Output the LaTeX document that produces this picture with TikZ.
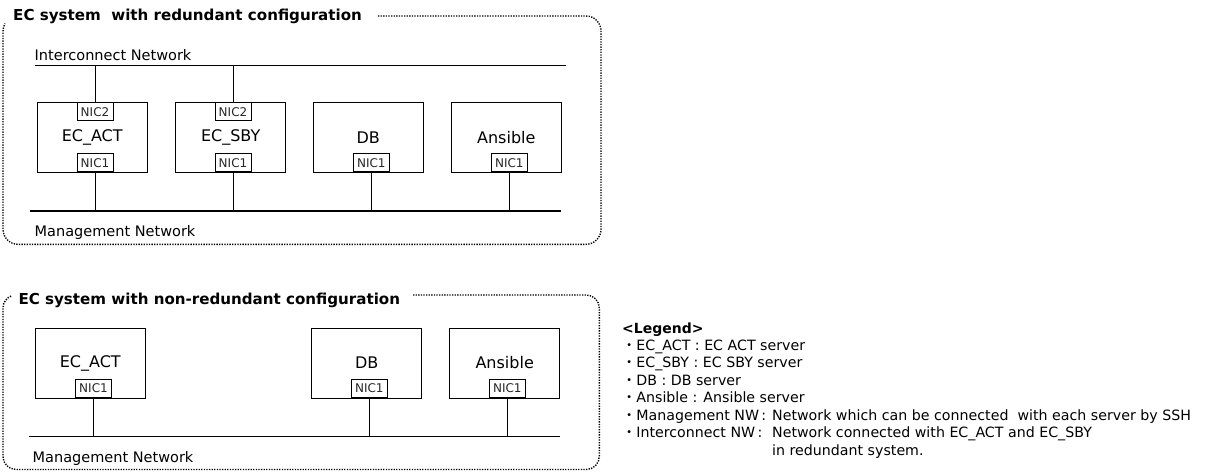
\documentclass[tikz,border=0pt]{standalone}
\usepackage{fontspec}
\setmainfont{DejaVu Sans}
\newfontfamily\cjkfont{Noto Sans CJK JP}
\newcommand{\bul}{{\cjkfont ・}}
\begin{document}
\begin{tikzpicture}[x=1pt,y=-1pt,
  frame/.style={line width=1.4pt, dash pattern=on 1.3pt off 1.3pt},
  server/.style={draw, line width=1pt, minimum width=110pt, minimum height=70pt, inner sep=0pt, font=\fontsize{16}{18}\selectfont},
  nic/.style={draw, line width=0.9pt, minimum width=36pt, minimum height=18pt, inner sep=0pt, text=black!85, font=\fontsize{12}{14}\selectfont},
  net/.style={line width=1.1pt},
  link/.style={line width=0.9pt},
  netlabel/.style={anchor=base west, inner sep=0pt, font=\fontsize{14.5}{16}\selectfont},
  titlelabel/.style={anchor=base west, inner sep=0pt, font=\fontsize{15.1}{17}\selectfont\bfseries},
  legendtext/.style={anchor=base west, inner sep=0pt, font=\fontsize{14.2}{16}\selectfont},
]
\useasboundingbox (0,0) rectangle (1218,475);

% ---------- upper: redundant ----------
\draw[frame] (378,16) -- (586,16) arc[start angle=-90,end angle=0,radius=15]
  -- (601,229.3) arc[start angle=0,end angle=90,radius=15]
  -- (18,244.3) arc[start angle=90,end angle=180,radius=15]
  -- (3,31) arc[start angle=180,end angle=210,radius=15];
\node[titlelabel] (t1) at (13,20.7) {EC system\ \ with redundant configuration};

\coordinate (icL) at (35.4,65.3);
\coordinate (icR) at (565.7,65.3);
\coordinate (mgL) at (30.3,211);
\coordinate (mgR) at (561,211);
\draw[net] (icL) -- (icR);
\draw[net] (mgL) -- (mgR);
\node[netlabel] (icLab) at (34.5,60) {Interconnect Network};
\node[netlabel] (mgLab) at (34.5,236.5) {Management Network};

\node[server] (act) at (92.2,137.3) {EC\_ACT};
\node[server] (sby) at (230.7,137.3) {EC\_SBY};
\node[server] (db) at (368.3,137.3) {DB};
\node[server] (ans) at (506.3,137.3) {Ansible};

\node[nic, anchor=north] (actB) at (95,102.3) {NIC2};
\node[nic, anchor=north] (sbyB) at (233,102.3) {NIC2};
\node[nic, anchor=south] (actA) at (95,172.3) {NIC1};
\node[nic, anchor=south] (sbyA) at (233,172.3) {NIC1};
\node[nic, anchor=south] (dbA) at (371.3,172.3) {NIC1};
\node[nic, anchor=south] (ansA) at (509.3,172.3) {NIC1};

\draw[link] (actB.north) -- (actB.north |- icL);
\draw[link] (sbyB.north) -- (sbyB.north |- icL);
\draw[link] (actA.south) -- (actA.south |- mgL);
\draw[link] (sbyA.south) -- (sbyA.south |- mgL);
\draw[link] (dbA.south) -- (dbA.south |- mgL);
\draw[link] (ansA.south) -- (ansA.south |- mgL);

% ---------- lower: non-redundant ----------
\draw[frame] (413,295) -- (586.3,295) arc[start angle=-90,end angle=0,radius=13]
  -- (599.3,456.5) arc[start angle=0,end angle=90,radius=13]
  -- (16,469.5) arc[start angle=90,end angle=180,radius=13]
  -- (3,308) arc[start angle=180,end angle=250,radius=13];
\node[titlelabel] (t2) at (18.3,304) {EC system with non-redundant configuration};

\coordinate (mg2L) at (29.3,436.7);
\coordinate (mg2R) at (560,436.7);
\draw[net] (mg2L) -- (mg2R);
\node[netlabel] (mg2Lab) at (32.5,462) {Management Network};

\node[server] (act2) at (90.3,363) {EC\_ACT};
\node[server] (db2) at (366.7,363) {DB};
\node[server] (ans2) at (504.7,363) {Ansible};

\node[nic, anchor=south] (act2A) at (93.5,398) {NIC1};
\node[nic, anchor=south] (db2A) at (369.3,398) {NIC1};
\node[nic, anchor=south] (ans2A) at (507.3,398) {NIC1};

\draw[link] (act2A.south) -- (act2A.south |- mg2L);
\draw[link] (db2A.south) -- (db2A.south |- mg2L);
\draw[link] (ans2A.south) -- (ans2A.south |- mg2L);

% ---------- legend ----------
\node[legendtext, font=\fontsize{14}{16}\selectfont\bfseries] (lg0) at (622,333.3) {<Legend>};
\node[legendtext] (lg1) at (622,350) {\bul EC\_ACT : EC ACT server};
\node[legendtext] (lg2) at (622,367.7) {\bul EC\_SBY : EC SBY server};
\node[legendtext] (lg3) at (622,385) {\bul DB : DB server};
\node[legendtext] (lg4) at (622,402.7) {\bul Ansible : Ansible server};
\node[legendtext] (lg5) at (622,420) {\bul Management NW\,:};
\node[legendtext] (lg5d) at (772,420) {Network which can be connected\ \ with each server by SSH};
\node[legendtext] (lg6) at (622,437.7) {\bul Interconnect NW\,:};
\node[legendtext] (lg6d) at (772,437.7) {Network connected with EC\_ACT and EC\_SBY};
\node[legendtext] (lg6e) at (772,455) {in redundant system.};
\end{tikzpicture}
\end{document}
